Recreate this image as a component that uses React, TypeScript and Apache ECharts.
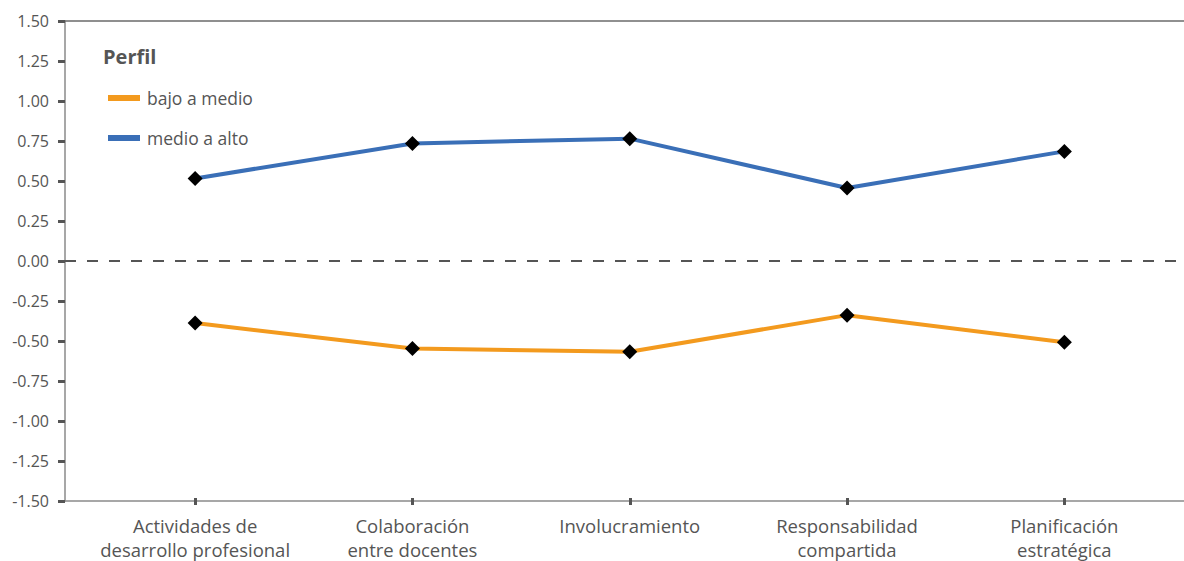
import React, { useEffect, useRef } from "react";
import * as echarts from "echarts";

const categories = [
  "Actividades de\ndesarrollo profesional",
  "Colaboración\nentre docentes",
  "Involucramiento",
  "Responsabilidad\ncompartida",
  "Planificación\nestratégica",
];
const bajoAMedio = [-0.4, -0.56, -0.58, -0.35, -0.52];
const medioAAlto = [0.51, 0.73, 0.76, 0.45, 0.68];
const yMin = -1.5;
const yMax = 1.5;
const yInterval = 0.25;
const seriesNames = ["bajo a medio", "medio a alto"];
const seriesColors = ["#F39A1E", "#3A6FB7"];
const legendTitle = "Perfil";

const FONT = "'Open Sans', sans-serif";
const TEXT = "#555555";

export default function App() {
  const ref = useRef<HTMLDivElement>(null);
  useEffect(() => {
    if (!ref.current) return;
    const chart = echarts.init(ref.current, null, { renderer: "svg" });
    chart.setOption({
      animation: false,
      backgroundColor: "#ffffff",
      textStyle: { fontFamily: FONT },
      title: {
        text: legendTitle,
        left: 98,
        top: 41,
        textStyle: { fontFamily: FONT, fontSize: 20, fontWeight: "bold", color: TEXT },
      },
      legend: {
        data: seriesNames.map((n, i) => ({ name: n, itemStyle: { color: seriesColors[i] } })),
        orient: "vertical",
        left: 103,
        top: 82,
        itemWidth: 32,
        itemHeight: 6,
        itemGap: 18,
        icon: "rect",
        textStyle: { fontFamily: FONT, fontSize: 17.5, color: TEXT, lineHeight: 22, padding: [0, 0, 0, 2] },
      },
      grid: [
        { left: 86.5, right: 11, top: 21, bottom: 60 },
        { left: 65, right: 0, top: 21, bottom: 60 },
      ],
      xAxis: [
        {
          type: "category",
          gridIndex: 0,
          data: categories,
          boundaryGap: true,
          axisLine: { show: false, onZero: false },
          axisTick: { show: true, alignWithLabel: true, length: 7, lineStyle: { color: "#555", width: 3 } },
          axisLabel: {
            color: TEXT,
            fontFamily: FONT,
            fontSize: 18.5,
            lineHeight: 24,
            margin: 15,
            interval: 0,
          },
          splitLine: { show: false },
        },
        {
          type: "value",
          gridIndex: 1,
          min: 0,
          max: 1,
          position: "bottom",
          axisLine: { show: true, onZero: false, lineStyle: { color: "#8a8a8a", width: 1.5 } },
          axisTick: { show: false },
          axisLabel: { show: false },
          splitLine: { show: false },
        },
        {
          type: "value",
          gridIndex: 1,
          min: 0,
          max: 1,
          position: "top",
          axisLine: { show: true, onZero: false, lineStyle: { color: "#6b6b6b", width: 1.5 } },
          axisTick: { show: false },
          axisLabel: { show: false },
          splitLine: { show: false },
        },
      ],
      yAxis: [
        {
          type: "value",
          gridIndex: 0,
          min: yMin,
          max: yMax,
          interval: yInterval,
          show: false,
        },
        {
          type: "value",
          gridIndex: 1,
          min: yMin,
          max: yMax,
          interval: yInterval,
          axisLine: { show: true, onZero: false, lineStyle: { color: "#8a8a8a", width: 1.5 } },
          axisTick: { show: true, length: 7, lineStyle: { color: "#555", width: 3 } },
          axisLabel: {
            color: TEXT,
            fontFamily: FONT,
            fontSize: 16,
            margin: 16,
            formatter: (v: number) => v.toFixed(2),
          },
          splitLine: { show: false },
        },
      ],
      series: [
        {
          name: "zero",
          type: "line",
          xAxisIndex: 1,
          yAxisIndex: 1,
          data: [],
          silent: true,
          markLine: {
            silent: true,
            symbol: "none",
            label: { show: false },
            lineStyle: { type: [11, 11], color: "#555", width: 2 },
            data: [{ yAxis: 0 }],
          },
        },
        {
          name: seriesNames[0],
          type: "line",
          xAxisIndex: 0,
          yAxisIndex: 0,
          data: bajoAMedio,
          color: seriesColors[0],
          lineStyle: { color: seriesColors[0], width: 4 },
          symbol: "diamond",
          symbolSize: 15,
          itemStyle: { color: "#000000" },
          z: 3,
        },
        {
          name: seriesNames[1],
          type: "line",
          xAxisIndex: 0,
          yAxisIndex: 0,
          data: medioAAlto,
          color: seriesColors[1],
          lineStyle: { color: seriesColors[1], width: 4 },
          symbol: "diamond",
          symbolSize: 15,
          itemStyle: { color: "#000000" },
          z: 3,
        },
      ],
    });
    return () => chart.dispose();
  }, []);
  return <div ref={ref} style={{ width: 1184, height: 561, position: "absolute", left: 0, top: 0 }} />;
}
